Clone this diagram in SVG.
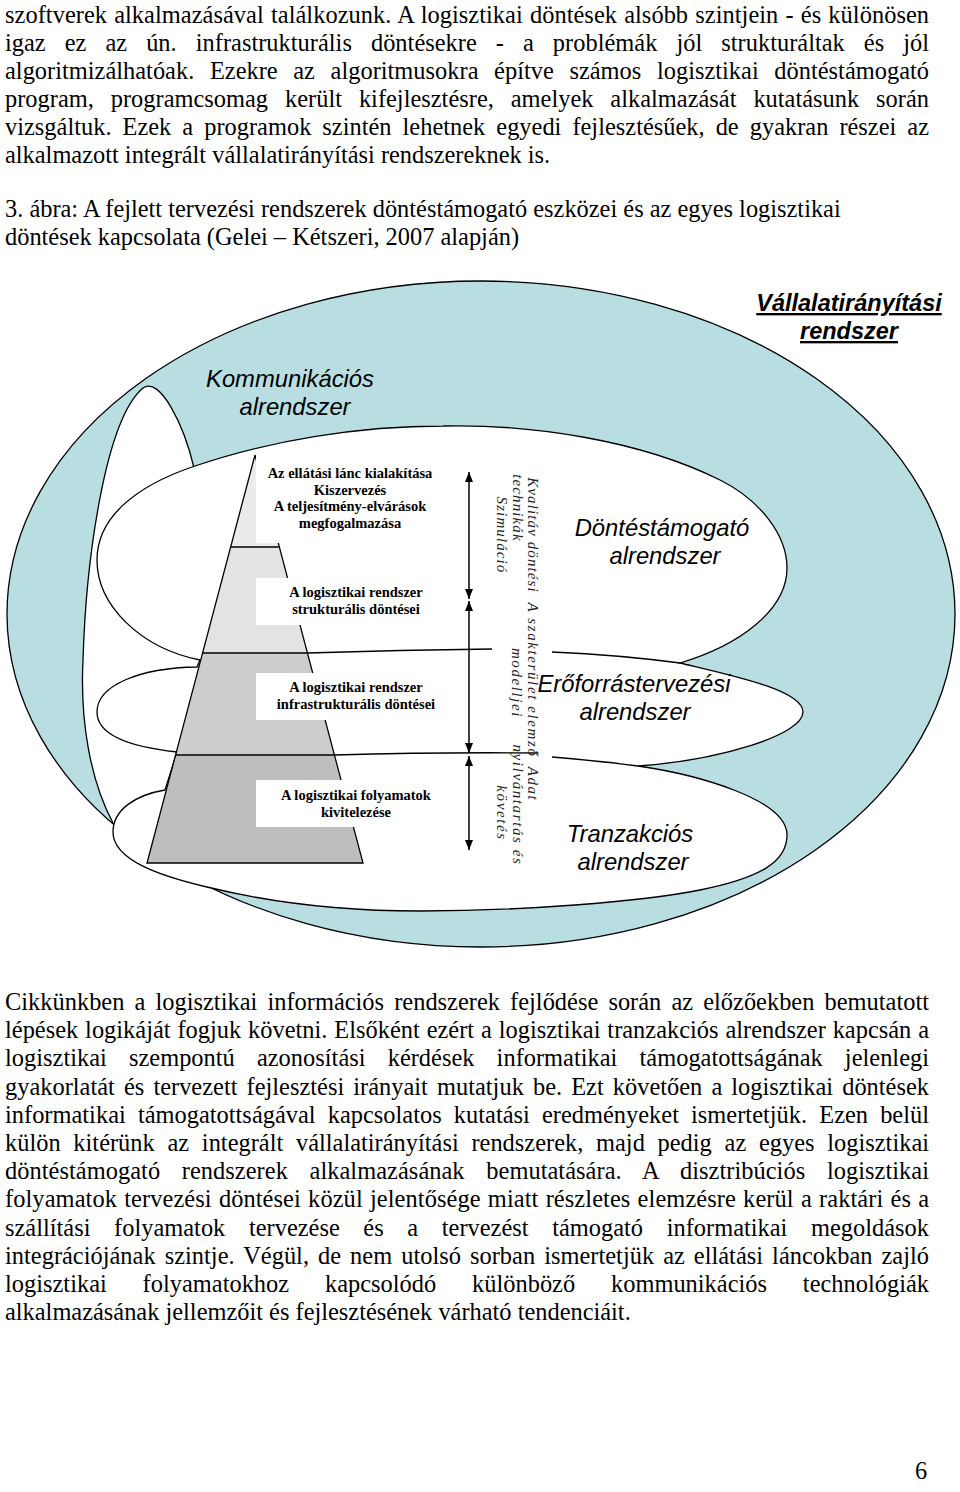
<svg xmlns="http://www.w3.org/2000/svg" width="960" height="1492" viewBox="0 0 960 1492">
<style>
.body{font-family:"Liberation Serif","Times New Roman",serif;font-size:24.4px;fill:#000}
.pyr{font-family:"Liberation Serif","Times New Roman",serif;font-size:14.5px;font-weight:bold;text-anchor:middle;fill:#000}
.rot{font-family:"Liberation Serif","Times New Roman",serif;font-size:15px;font-style:italic;letter-spacing:1.1px;text-anchor:middle;fill:#222}
.rot2{letter-spacing:1.6px}
.lbl{font-family:"Liberation Sans",Arial,sans-serif;font-size:23.8px;font-style:italic;text-anchor:middle;fill:#000}
.ttl{font-family:"Liberation Sans",Arial,sans-serif;font-size:23.5px;font-style:italic;font-weight:bold;text-anchor:middle;text-decoration:underline;fill:#000}
.ln{fill:none;stroke:#000;stroke-width:1.3}
.box{fill:#fff;stroke:none}
</style>
<defs>
<marker id="ah" viewBox="0 0 10 8" refX="10" refY="4" markerWidth="10" markerHeight="8" markerUnits="userSpaceOnUse" orient="auto-start-reverse"><path d="M0,0 L10,4 L0,8 z" fill="#000"/></marker>
</defs>
<rect width="960" height="1492" fill="#fff"/>

<g id="para-top" class="body">
<text x="5" y="22.5" word-spacing="1.0" textLength="924" lengthAdjust="spacing">szoftverek alkalmazásával találkozunk. A logisztikai döntések alsóbb szintjein - és különösen</text>
<text x="5" y="50.5" word-spacing="12.9" textLength="924" lengthAdjust="spacing">igaz ez az ún. infrastrukturális döntésekre - a problémák jól strukturáltak és jól</text>
<text x="5" y="78.5" word-spacing="9.5" textLength="924" lengthAdjust="spacing">algoritmizálhatóak. Ezekre az algoritmusokra építve számos logisztikai döntéstámogató</text>
<text x="5" y="106.5" word-spacing="10.8" textLength="924" lengthAdjust="spacing">program, programcsomag került kifejlesztésre, amelyek alkalmazását kutatásunk során</text>
<text x="5" y="134.5" word-spacing="4.9" textLength="924" lengthAdjust="spacing">vizsgáltuk. Ezek a programok szintén lehetnek egyedi fejlesztésűek, de gyakran részei az</text>
<text x="5" y="162.5">alkalmazott integrált vállalatirányítási rendszereknek is.</text>
</g>

<g id="caption" class="body">
<text x="5" y="216.5">3. ábra: A fejlett tervezési rendszerek döntéstámogató eszközei és az egyes logisztikai</text>
<text x="5" y="244.5">döntések kapcsolata (Gelei – Kétszeri, 2007 alapján)</text>
</g>

<g id="node-vallalatiranyitasi">
<ellipse cx="481" cy="614" rx="474" ry="333" fill="#B9DEE2" stroke="#000" stroke-width="1.3"/>
<text class="ttl" x="849" y="311">Vállalatirányítási</text>
<text class="ttl" x="849" y="339">rendszer</text>
</g>

<g id="node-kommunikacios">
<path d="M113,823 C90,780 80,720 83,660 C86,560 105,420 143,388 C160,376 184,425 194,468 L230,520 L230,800 Z" fill="#fff" stroke="none"/>
<path class="ln" d="M113,823 C90,780 80,720 83,660 C86,560 105,420 143,388 C160,376 184,425 194,468"/>
<text class="lbl" x="290" y="387">Kommunikációs</text>
<text class="lbl" x="295" y="415">alrendszer</text>
</g>

<g id="node-inner">
<path d="M200,660 C140,648 97,605 97,560 C97,515 140,485 192,467 C270,440 360,426 443,426 C530,424 640,440 720,480 C760,500 787,535 787,568 C787,610 740,645 680,663 C730,675 803,690 803,712 C803,735 720,760 638,766 C700,775 787,800 787,835 C787,862 760,878 700,890 C640,902 520,911 420,911 C330,911 260,900 207,887 C160,876 113,860 113,832 C113,810 135,795 165,790 L177,752 C140,748 97,738 97,712 C97,685 140,668 197,667 Z" fill="#fff" stroke="#000" stroke-width="1.3"/>
</g>

<g id="node-pyramid">
<polygon points="255,455 279,547 231,547" fill="#EBEBEB"/>
<polygon points="231,547 279,547 307,653 203,653" fill="#E3E3E3"/>
<polygon points="203,653 307,653 334,755 176,755" fill="#CDCDCD"/>
<polygon points="176,755 334,755 363,863 147,863" fill="#BEBEBE"/>
<path class="ln" d="M255,455 L147,863 L363,863 L255,455 M231,547 L279,547 M203,653 L307,653 M176,755 L334,755"/>
<rect class="box" x="256" y="455" width="191" height="88"/>
<rect class="box" x="256" y="578" width="189" height="47"/>
<rect class="box" x="256" y="673" width="189" height="47"/>
<rect class="box" x="256" y="780" width="189" height="47"/>
</g>

<g id="node-level1">
<text class="pyr" x="350" y="478">Az ellátási lánc kialakítása</text>
<text class="pyr" x="350" y="494.5">Kiszervezés</text>
<text class="pyr" x="350" y="511">A teljesítmény-elvárások</text>
<text class="pyr" x="350" y="527.5">megfogalmazása</text>
</g>
<g id="node-level2">
<text class="pyr" x="356" y="597">A logisztikai rendszer</text>
<text class="pyr" x="356" y="613.5">strukturális döntései</text>
</g>
<g id="node-level3">
<text class="pyr" x="356" y="692">A logisztikai rendszer</text>
<text class="pyr" x="356" y="709">infrastrukturális döntései</text>
</g>
<g id="node-level4">
<text class="pyr" x="356" y="800">A logisztikai folyamatok</text>
<text class="pyr" x="356" y="817">kivitelezése</text>
</g>

<g id="connectors">
<path class="ln" d="M307,653 Q400,650 492,649"/>
<path class="ln" d="M552,652 Q620,655 680,663"/>
<path class="ln" d="M334,755 Q440,752 538,753"/>
<path class="ln" d="M552,757 Q600,761 638,766"/>
<line x1="469" y1="472" x2="469" y2="599" stroke="#000" stroke-width="1.5" marker-start="url(#ah)" marker-end="url(#ah)"/>
<line x1="469" y1="601" x2="469" y2="753" stroke="#000" stroke-width="1.5" marker-start="url(#ah)" marker-end="url(#ah)"/>
<line x1="469" y1="756" x2="469" y2="850" stroke="#000" stroke-width="1.5" marker-start="url(#ah)" marker-end="url(#ah)"/>
</g>

<g id="node-tools">
<text class="rot" transform="translate(528,535) rotate(90)">Kvalitáv döntési</text>
<text class="rot" transform="translate(513,508) rotate(90)">technikák</text>
<text class="rot" transform="translate(497,535) rotate(90)">Szimuláció</text>
<text class="rot rot2" transform="translate(528,680) rotate(90)">A szakterület elemző</text>
<text class="rot rot2" transform="translate(512,683) rotate(90)">modelljei</text>
<text class="rot rot2" transform="translate(528,784) rotate(90)">Adat</text>
<text class="rot rot2" transform="translate(513,805) rotate(90)">nyilvántartás és</text>
<text class="rot rot2" transform="translate(497,813) rotate(90)">követés</text>
</g>

<g id="node-dontestamogato">
<text class="lbl" x="662" y="536">Döntéstámogató</text>
<text class="lbl" x="665" y="564">alrendszer</text>
</g>
<g id="node-eroforras">
<text class="lbl" x="634" y="692">Erőforrástervezési</text>
<text class="lbl" x="635" y="720">alrendszer</text>
</g>
<g id="node-tranzakcios">
<text class="lbl" x="630" y="842">Tranzakciós</text>
<text class="lbl" x="633" y="870">alrendszer</text>
</g>

<g id="para-bottom" class="body">
<text x="5" y="1010" word-spacing="4.0" textLength="924" lengthAdjust="spacing">Cikkünkben a logisztikai információs rendszerek fejlődése során az előzőekben bemutatott</text>
<text x="5" y="1038.2" word-spacing="0.75" textLength="924" lengthAdjust="spacing">lépések logikáját fogjuk követni. Elsőként ezért a logisztikai tranzakciós alrendszer kapcsán a</text>
<text x="5" y="1066.4" word-spacing="16.0" textLength="924" lengthAdjust="spacing">logisztikai szempontú azonosítási kérdések informatikai támogatottságának jelenlegi</text>
<text x="5" y="1094.6" word-spacing="2.95" textLength="924" lengthAdjust="spacing">gyakorlatát és tervezett fejlesztési irányait mutatjuk be. Ezt követően a logisztikai döntések</text>
<text x="5" y="1122.8" word-spacing="6.0" textLength="924" lengthAdjust="spacing">informatikai támogatottságával kapcsolatos kutatási eredményeket ismertetjük. Ezen belül</text>
<text x="5" y="1151" word-spacing="6.6" textLength="924" lengthAdjust="spacing">külön kitérünk az integrált vállalatirányítási rendszerek, majd pedig az egyes logisztikai</text>
<text x="5" y="1179.2" word-spacing="15.5" textLength="924" lengthAdjust="spacing">döntéstámogató rendszerek alkalmazásának bemutatására. A disztribúciós logisztikai</text>
<text x="5" y="1207.4" word-spacing="1.0" textLength="924" lengthAdjust="spacing">folyamatok tervezési döntései közül jelentősége miatt részletes elemzésre kerül a raktári és a</text>
<text x="5" y="1235.6" word-spacing="17.5" textLength="924" lengthAdjust="spacing">szállítási folyamatok tervezése és a tervezést támogató informatikai megoldások</text>
<text x="5" y="1263.8" word-spacing="2.9" textLength="924" lengthAdjust="spacing">integrációjának szintje. Végül, de nem utolsó sorban ismertetjük az ellátási láncokban zajló</text>
<text x="5" y="1292" word-spacing="29.7" textLength="924" lengthAdjust="spacing">logisztikai folyamatokhoz kapcsolódó különböző kommunikációs technológiák</text>
<text x="5" y="1320.2">alkalmazásának jellemzőit és fejlesztésének várható tendenciáit.</text>
</g>

<g id="page-number" class="body">
<text x="921" y="1479" text-anchor="middle">6</text>
</g>
</svg>
